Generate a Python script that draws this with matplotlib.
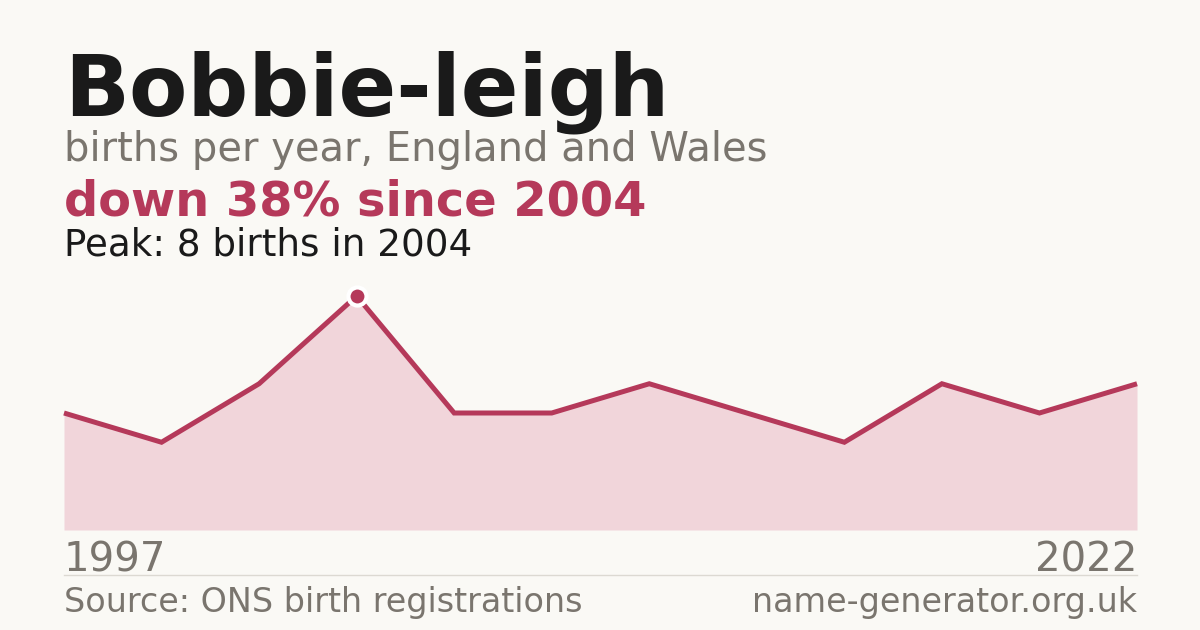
import matplotlib
matplotlib.use("Agg")
import matplotlib.pyplot as plt

# births per recorded year (points are evenly spaced in the chart)
years = [1997, 1999, 2001, 2004, 2006, 2008, 2010, 2012, 2015, 2017, 2019, 2022]
births = [4, 3, 5, 8, 4, 4, 5, 4, 3, 5, 4, 5]
peak_idx = 3

title = "Bobbie-leigh"
subtitle = "births per year, England and Wales"
headline = "down 38% since 2004"
peak_note = "Peak: 8 births in 2004"
source = "Source: ONS birth registrations"
site = "name-generator.org.uk"

BG = "#faf9f5"
RED = "#b5395a"
FILL = "#f1d5da"
DARK = "#1a1a1a"
GREY = "#7a756e"

W, H = 1200, 630
fig = plt.figure(figsize=(W / 100, H / 100), dpi=100, facecolor=BG)
plt.rcParams["font.family"] = ["DejaVu Sans"]


def fy(py):
    return 1 - py / H


def fx(px):
    return px / W


ax = fig.add_axes([fx(64), fy(530), fx(1137) - fx(64), fy(296) - fy(530)])
ax.set_facecolor(BG)
xs = list(range(len(births)))
ax.fill_between(xs, births, 0, color=FILL, lw=0)
ax.plot(xs, births, color=RED, lw=3.6, solid_joinstyle="miter",
        solid_capstyle="butt", clip_on=False)
ax.plot(xs[peak_idx], births[peak_idx], "o", ms=13, color=RED,
        mec="white", mew=3, clip_on=False, zorder=5)
ax.set_xlim(0, len(births) - 1)
ax.set_ylim(0, max(births))
ax.axis("off")

fig.text(fx(64), fy(115), title, fontsize=61.3, fontweight="bold", color=DARK, va="baseline")
fig.text(fx(64), fy(161), subtitle, fontsize=28.8, color=GREY, va="baseline")
fig.text(fx(64), fy(216), headline, fontsize=34.5, fontweight="bold", color=RED, va="baseline")
fig.text(fx(64), fy(256), peak_note, fontsize=26.8, color=DARK, va="baseline")

fig.text(fx(64), fy(571), str(years[0]), fontsize=29, color=GREY, va="baseline")
fig.text(fx(1137), fy(571), str(years[-1]), fontsize=29, color=GREY, va="baseline", ha="right")
fig.add_artist(plt.Line2D([fx(64), fx(1137)], [fy(575), fy(575)], color="#dcd9d2", lw=1))
fig.text(fx(64), fy(612), source, fontsize=24, color=GREY, va="baseline")
fig.text(fx(1137), fy(612), site, fontsize=24, color=GREY, va="baseline", ha="right")

fig.savefig("out.png", dpi=100, facecolor=BG)
